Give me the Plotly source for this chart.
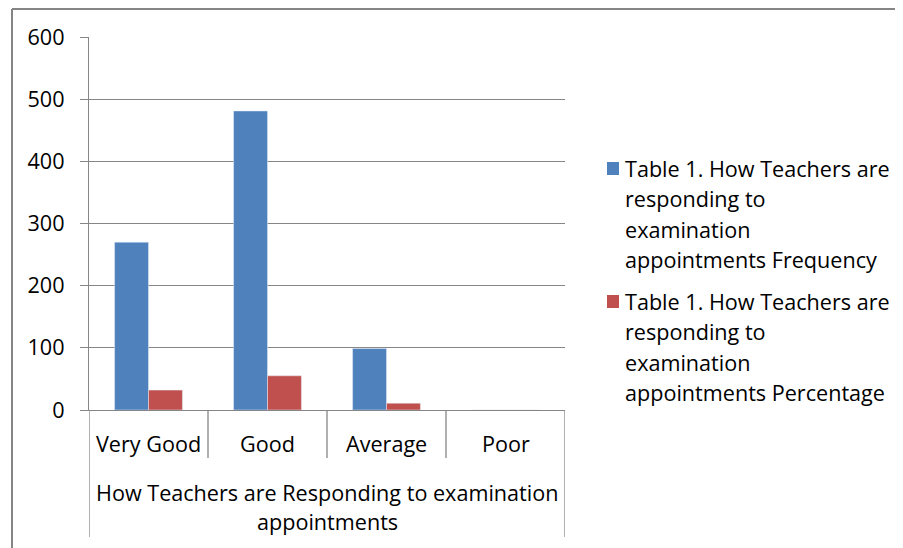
import plotly.graph_objects as go

categories = ["Very Good", "Good", "Average", "Poor"]
frequency = [270, 481, 99, 0]
percentage = [32, 55, 11, 0]
series_names = [
    "Table 1. How Teachers are responding to examination appointments Frequency",
    "Table 1. How Teachers are responding to examination appointments Percentage",
]
legend_lines = [
    ["Table 1. How Teachers are", "responding to", "examination", "appointments Frequency"],
    ["Table 1. How Teachers are", "responding to", "examination", "appointments Percentage"],
]
group_label = ["How Teachers are Responding to examination", "appointments"]
y_ticks = [0, 100, 200, 300, 400, 500, 600]

OFF = 8  # default page body margin
W, H = 903 - OFF, 548 - OFF
L, R, T, B = 89, 565, 37, 410  # plot area in page pixels
FONT = "Open Sans"
FS = 21.6
GRAY = "#868686"
BLUE = "#4F81BD"
RED = "#C0504D"


def px(xp):
    return (xp - L) / (R - L)


def py(yp):
    return (B - yp) / (B - T)


fig = go.Figure()
fig.add_trace(go.Bar(x=categories, y=frequency, name=series_names[0], marker_color=BLUE))
fig.add_trace(go.Bar(x=categories, y=percentage, name=series_names[1], marker_color=RED))

shapes = []
annotations = []

# outer chart border (top and left)
shapes.append(dict(type="line", xref="paper", yref="paper", x0=px(12), x1=px(905), y0=py(9), y1=py(9),
                   line=dict(color="#858585", width=2)))
shapes.append(dict(type="line", xref="paper", yref="paper", x0=px(12), x1=px(12), y0=py(9), y1=py(550),
                   line=dict(color="#858585", width=2)))

# category axis separators
n = len(categories)
for i in range(n + 1):
    xb = i - 0.5
    bottom = py(537) if i in (0, n) else py(458)
    shapes.append(dict(type="line", xref="x", yref="paper", x0=xb, x1=xb, y0=0, y1=bottom,
                       line=dict(color=GRAY, width=1.3)))

# category labels
for c in categories:
    annotations.append(dict(x=c, y=py(443), xref="x", yref="paper", text=c, showarrow=False,
                            xanchor="center", yanchor="middle", font=dict(family=FONT, size=FS, color="#000")))

# group label
for t, yc in zip(group_label, [492, 521]):
    annotations.append(dict(x=0.5, y=py(yc), xref="paper", yref="paper", text=t, showarrow=False,
                            xanchor="center", yanchor="middle", font=dict(family=FONT, size=FS, color="#000")))

# manual legend
entry_tops = [168, 301]
colors = [BLUE, RED]
for k in range(2):
    y0 = entry_tops[k]
    shapes.append(dict(type="rect", xref="paper", yref="paper", x0=px(607), x1=px(619),
                       y0=py(y0 - 6), y1=py(y0 + 7), fillcolor=colors[k], line=dict(width=0)))
    for m, line in enumerate(legend_lines[k]):
        annotations.append(dict(x=px(623), y=py(y0 + m * 30.5), xref="paper", yref="paper", text=line,
                                showarrow=False, xanchor="left", yanchor="middle",
                                font=dict(family=FONT, size=FS, color="#000")))

fig.update_layout(
    width=W, height=H,
    margin=dict(l=L - OFF, r=W - (R - OFF), t=T - OFF, b=H - (B - OFF)),
    paper_bgcolor="white", plot_bgcolor="white",
    barmode="group", bargap=0.43, bargroupgap=0,
    showlegend=False,
    shapes=shapes, annotations=annotations,
    font=dict(family=FONT, size=FS, color="#000"),
)
fig.update_xaxes(showticklabels=False, ticks="", showgrid=False, zeroline=False,
                 showline=True, linecolor=GRAY, linewidth=1.3, range=[-0.5, n - 0.5])
fig.update_yaxes(range=[0, 600], tickvals=y_ticks, showgrid=True, gridcolor=GRAY, gridwidth=1.3,
                 zeroline=False, showline=True, linecolor=GRAY, linewidth=1.3,
                 ticks="outside", ticklen=8, tickcolor=GRAY, tickwidth=1.3,
                 ticklabelstandoff=11, tickfont=dict(family=FONT, size=FS, color="#000"))

fig.write_html("out.html")
